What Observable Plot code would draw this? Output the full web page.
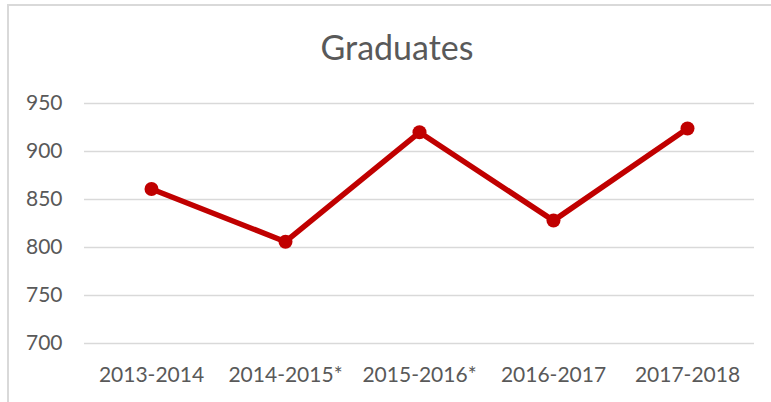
<!DOCTYPE html>
<html>
<head>
<meta charset="utf-8">
<script src="https://cdn.jsdelivr.net/npm/d3@7"></script>
<script src="https://cdn.jsdelivr.net/npm/@observablehq/plot@0.6"></script>
<style>
  html, body { margin: 0; padding: 0; background: #fff; }
  #chart { position: relative; width: 771px; height: 402px; overflow: hidden; font-family: Lato, sans-serif; }
  #frame { position: absolute; left: 7px; top: 4px; width: 820px; height: 460px;
           border-left: 2px solid #d9d9d9; border-top: 2px solid #d9d9d9; }
  #title { position: absolute; left: 7px; width: 780px; top: 30px; line-height: 34px;
           text-align: center; font-size: 34px; color: #595959; font-family: Lato, sans-serif; }
  #plot { position: absolute; left: 0; top: 80px; }
</style>
</head>
<body>
<div id="chart">
  <div id="frame"></div>
  <div id="title">Graduates</div>
  <div id="plot"></div>
</div>
<script>
const years = ["2013-2014", "2014-2015*", "2015-2016*", "2016-2017", "2017-2018"];
const graduates = [861, 806, 920, 828, 924];
const yTicks = [700, 750, 800, 850, 900, 950];

const data = years.map((y, i) => ({year: y, value: graduates[i]}));

const chart = Plot.plot({
  width: 771,
  height: 322,
  marginTop: 23,
  marginBottom: 59,
  marginLeft: 84,
  marginRight: 17,
  style: {fontFamily: "Lato, sans-serif", fontSize: "21px", color: "#595959", background: "transparent"},
  x: {type: "point", domain: years, padding: 0.5, label: null},
  y: {domain: [700, 950], label: null},
  marks: [
    Plot.ruleY(yTicks, {stroke: "#d9d9d9", strokeWidth: 1.5}),
    Plot.axisY({ticks: yTicks, tickSize: 0, tickPadding: 22, label: null, fontSize: 21}),
    Plot.axisX({tickSize: 0, tickPadding: 24, label: null, fontSize: 21}),
    Plot.line(data, {x: "year", y: "value", stroke: "#C00000", strokeWidth: 5.5, strokeLinejoin: "round", strokeLinecap: "round"}),
    Plot.dot(data, {x: "year", y: "value", r: 7, fill: "#C00000", stroke: "none"})
  ]
});
document.getElementById("plot").appendChild(chart);
</script>
</body>
</html>
